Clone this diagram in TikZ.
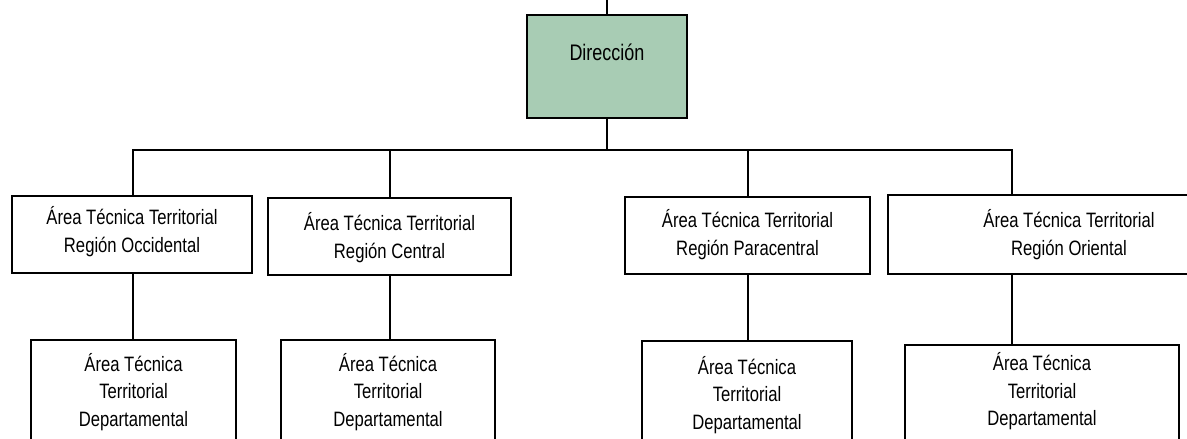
\documentclass[tikz,border=0pt]{standalone}
\usepackage{fontspec}
\setmainfont[FakeStretch=0.8]{Liberation Sans}
\usepackage{tikz}

\definecolor{dirgreen}{RGB}{168,204,180}
\newcommand{\boxlines}[1]{\begin{tabular}[t]{@{}c@{}}#1\end{tabular}}

\begin{document}
\begin{tikzpicture}[x=0.025cm, y=-0.025cm,
	every node/.style={line width=1.5pt, inner sep=0pt, anchor=base},
	dirbox/.style={draw, fill=dirgreen, minimum width=4cm, text height=1.1325cm, text depth=1.4425cm, font=\fontsize{16}{19}\selectfont},
	areabox/.style={draw, font=\fontsize{14.8}{20}\selectfont},
	deptbox/.style={draw, text depth=3cm, font=\fontsize{14.8}{19.6}\selectfont},
	link/.style={line width=1.5pt}]
			\useasboundingbox (0,0) rectangle (1187,439);
			\clip (0,0) rectangle (1187,439);
			
			\node (dir) [dirbox] at (607,60.3){Dirección};
			
			\node (r1) [areabox, minimum width=6cm, text height=0.7075cm, text depth=1.2175cm] at (132,224.3){\boxlines{Área Técnica Territorial\\Región Occidental}};
			\node (r2) [areabox, minimum width=6.075cm, text height=0.8075cm, text depth=1.1175cm] at (389.5,230.3){\boxlines{Área Técnica Territorial\\Región Central}};
			\node (r3) [areabox, minimum width=6.125cm, text height=0.7575cm, text depth=1.1675cm] at (747.5,227.3){\boxlines{Área Técnica Territorial\\Región Paracentral}};
			\node (r4) [areabox, minimum width=9.05cm, text height=0.8075cm, text depth=1.1675cm] at (1069,227.3){\boxlines{Área Técnica Territorial\\Región Oriental}\hspace{2.5cm}};
			
			\node (d1) [deptbox, minimum width=5.125cm, text height=0.7825cm] at (133.5,371.3){\boxlines{Área Técnica\\Territorial\\Departamental}};
			\node (d2) [deptbox, minimum width=5.35cm, text height=0.7825cm] at (388,371.3){\boxlines{Área Técnica\\Territorial\\Departamental}};
			\node (d3) [deptbox, minimum width=5.25cm, text height=0.825cm] at (747,374){\boxlines{Área Técnica\\Territorial\\Departamental}};
			\node (d4) [deptbox, minimum width=6.85cm, text height=0.64cm] at (1042,370.6){\boxlines{Área Técnica\\Territorial\\Departamental}\hspace{1.425cm}};
			
			\coordinate (top) at (607,0);
			\coordinate (bus) at (607,150);
			\coordinate (j1) at (133,150);
			\coordinate (j2) at (390,150);
			\coordinate (j3) at (748,150);
			\coordinate (j4) at (1012,150);
			
			\draw[link] (top)--(dir)--(bus);
			\draw[link] (j1 |- r1.north)--(j1)--(j4)--(j4 |- r4.north);
			\draw[link] (j2)--(j2 |- r2.north);
			\draw[link] (j3)--(j3 |- r3.north);
			\foreach \i in {1,...,4}
				\draw[link] (j\i |- r\i.south)--(j\i |- d\i.north);
		\end{tikzpicture}
\end{document}
